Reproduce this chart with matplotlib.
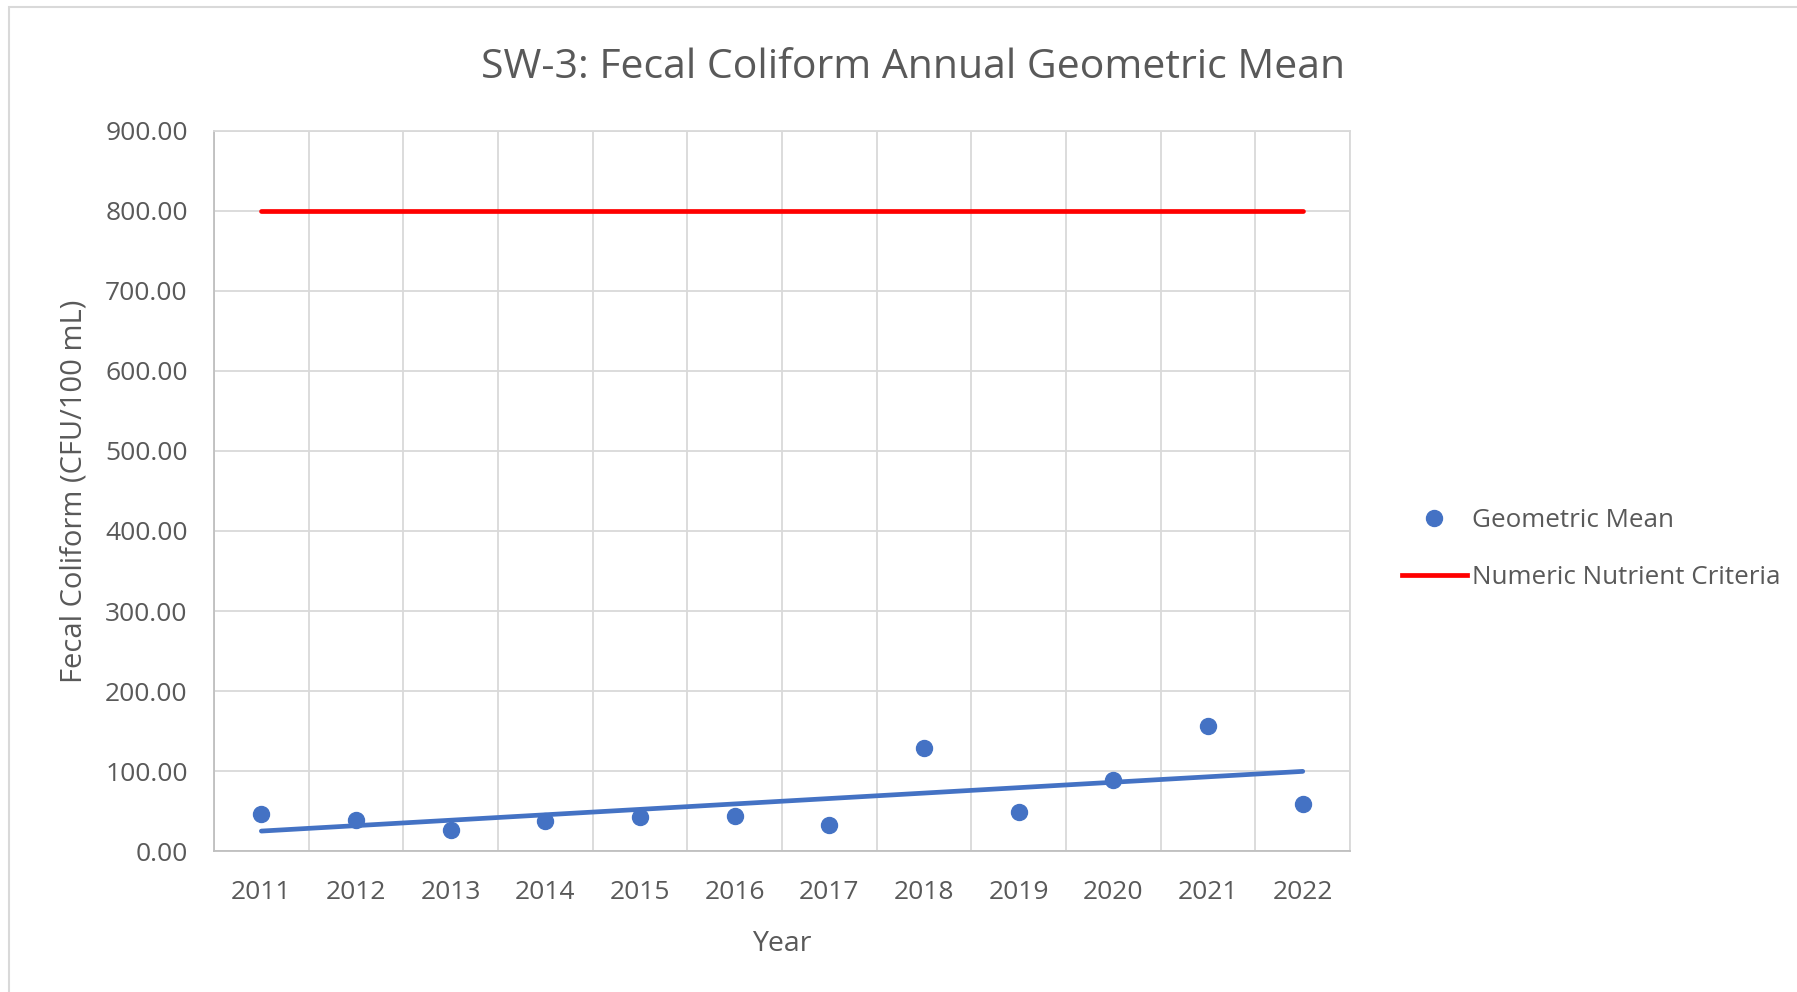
import matplotlib.pyplot as plt
from matplotlib.lines import Line2D
from matplotlib.patches import Rectangle
import numpy as np

plt.rcParams['font.family'] = ['Open Sans', 'DejaVu Sans']

years = ["2011", "2012", "2013", "2014", "2015", "2016",
         "2017", "2018", "2019", "2020", "2021", "2022"]
geo_mean = [45.7, 38.6, 25.7, 37.0, 43.0, 44.0, 33.0, 128.6, 48.6, 88.6, 155.7, 58.6]
criteria = [800.0] * len(years)

BLUE = "#4472C4"
RED = "#FF0000"
GRID = "#D9D9D9"
TEXT = "#595959"

x = np.arange(len(years))

# linear trendline through the annual values
slope, intercept = np.polyfit(x, geo_mean, 1)
trend = slope * x + intercept

fig = plt.figure(figsize=(17.97, 9.92), dpi=100)
fig.patches.append(Rectangle((9 / 1797, -0.1), 1.2, 1.1 - 7 / 992,
                             transform=fig.transFigure, fill=False,
                             edgecolor=GRID, linewidth=1.5))

ax = fig.add_axes([0.1191, 0.1421, 0.6322, 0.7259])

ax.plot(x, criteria, color=RED, linewidth=3.4, solid_capstyle="round", zorder=3)
ax.plot(x, trend, color=BLUE, linewidth=3.4, solid_capstyle="round", zorder=3)
ax.plot(x, geo_mean, linestyle="none", marker="o", markersize=11.5,
        color=BLUE, zorder=4)

ax.set_xlim(-0.5, len(years) - 0.5)
ax.set_ylim(0, 900)
ax.set_yticks(np.arange(0, 901, 100))
ax.set_yticklabels([f"{v:.2f}" for v in np.arange(0, 901, 100)])
ax.set_xticks(x)
ax.set_xticklabels(years)
ax.set_xticks(np.arange(-0.5, len(years), 1), minor=True)

ax.grid(True, which="major", axis="y", color=GRID, linewidth=1.3)
ax.grid(True, which="minor", axis="x", color=GRID, linewidth=1.3)
ax.set_axisbelow(True)
ax.tick_params(which="both", length=0)
ax.tick_params(axis="y", pad=19, labelsize=19, labelcolor=TEXT)
ax.tick_params(axis="x", pad=21, labelsize=19, labelcolor=TEXT)

for side in ["top", "right"]:
    ax.spines[side].set_color(GRID)
for side in ["left", "bottom"]:
    ax.spines[side].set_color("#BFBFBF")
for sp in ax.spines.values():
    sp.set_linewidth(1.3)

ax.set_xlabel("Year", fontsize=20.5, color=TEXT, labelpad=18)
ax.set_ylabel("Fecal Coliform (CFU/100 mL)", fontsize=21, color=TEXT, labelpad=12)

fig.text(0.508, 0.932, "SW-3: Fecal Coliform Annual Geometric Mean",
         fontsize=29.5, color=TEXT, ha="center", va="center")

handles = [
    Line2D([], [], linestyle="none", marker="o", markersize=11.5, color=BLUE),
    Line2D([], [], color=RED, linewidth=3.4),
]
fig.legend(handles, ["Geometric Mean", "Numeric Nutrient Criteria"],
           loc="center left", bbox_to_anchor=(0.767, 0.4465), frameon=False,
           fontsize=18.7, labelcolor=TEXT, handlelength=2.5,
           handletextpad=0.2, labelspacing=1.25)

plt.savefig("out.png", dpi=100)
